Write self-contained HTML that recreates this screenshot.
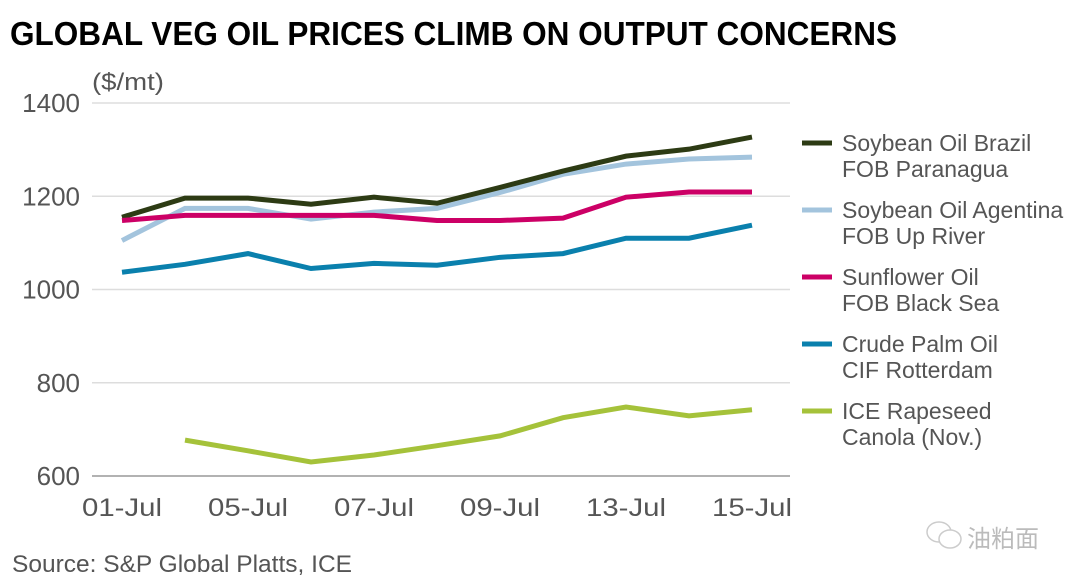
<!DOCTYPE html>
<html><head><meta charset="utf-8"><style>
body{margin:0;background:#fff;width:1080px;height:584px;overflow:hidden;font-family:"Liberation Sans Narrow","Liberation Sans",sans-serif}
</style></head><body>
<svg width="1080" height="584" style="position:absolute;left:0;top:0">
<text x="10" y="45" font-size="33" font-weight="bold" fill="#000" textLength="887" lengthAdjust="spacingAndGlyphs">GLOBAL VEG OIL PRICES CLIMB ON OUTPUT CONCERNS</text>
<text x="92" y="90" font-size="24" fill="#555" textLength="72" lengthAdjust="spacingAndGlyphs">($/mt)</text>
<g id="grid"></g><g id="lines"></g><g id="legend"></g>
<text x="12" y="572" font-size="24" fill="#555" textLength="340" lengthAdjust="spacingAndGlyphs">Source: S&amp;P Global Platts, ICE</text>
<g fill="none" stroke="#ccc" stroke-width="1.5">
<ellipse cx="939" cy="532" rx="12" ry="10"/><ellipse cx="950" cy="539" rx="11" ry="9" fill="#fff"/>
<text x="967" y="547" font-size="24" fill="#bbb" stroke="none" font-family="'Noto Sans CJK SC',sans-serif">油粕面</text></g>
</svg>
<script>
const categories=["01-Jul","02-Jul","05-Jul","06-Jul","07-Jul","08-Jul","09-Jul","12-Jul","13-Jul","14-Jul","15-Jul"];
const xLabels=["01-Jul","05-Jul","07-Jul","09-Jul","13-Jul","15-Jul"];
const yTicks=[600,800,1000,1200,1400];
const soyBrazil=[1155,1196,1196,1183,1198,1185,1219,1254,1286,1301,1327];
const soyArg=[1105,1174,1174,1151,1166,1174,1208,1247,1269,1280,1284];
const sunflower=[1148,1159,1159,1159,1159,1148,1148,1153,1198,1209,1209];
const palm=[1037,1054,1077,1045,1056,1052,1069,1077,1110,1110,1138];
const rapeseed=[null,677,654,630,645,665,686,725,748,729,742];
const seriesNames=[["Soybean Oil Brazil","FOB Paranagua"],["Soybean Oil Agentina","FOB Up River"],["Sunflower Oil","FOB Black Sea"],["Crude Palm Oil","CIF Rotterdam"],["ICE Rapeseed","Canola (Nov.)"]];
const NS="http://www.w3.org/2000/svg";
const X=i=>122+i*(752-122)/(categories.length-1);
const Y=v=>476-(v-600)*(476-103)/800;
const mk=(t,a,p)=>{const e=document.createElementNS(NS,t);for(const k in a)e.setAttribute(k,a[k]);p.appendChild(e);return e;};
const grid=document.getElementById('grid');
yTicks.forEach(v=>{
 const l=mk('line',{x1:92,x2:790,y1:Y(v),y2:Y(v),stroke:v===600?'#999':'#ddd','stroke-width':1.5},grid);
 
 
 const t=mk('text',{x:80,y:Y(v)+9,'text-anchor':'end','font-size':26,fill:'#555'},grid);t.textContent=v;
 
 
});
xLabels.forEach(lb=>{
 const i=categories.indexOf(lb);
 const t=mk('text',{x:X(i),y:516,'text-anchor':'middle','font-size':25,fill:'#555',textLength:80,lengthAdjust:'spacingAndGlyphs'},grid);t.textContent=lb;
 
 
});
const colors=["#2d3b14","#a3c4dd","#cc0066","#0a80ad","#a5c23a"];
const all=[soyBrazil,soyArg,sunflower,palm,rapeseed];
const lines=document.getElementById('lines');
[1,0,2,3,4].forEach(k=>{
 const d=all[k].map((v,i)=>v==null?null:[X(i),Y(v)]).filter(p=>p).map((p,j)=>(j?'L':'M')+p[0]+','+p[1]).join('');
 const p=mk('path',{d:d,fill:'none',stroke:colors[k],'stroke-width':5},lines);
 
 
});
const lg=document.getElementById('legend');
seriesNames.forEach((n,k)=>{
 const y0=143+k*67;
 const l=mk('line',{x1:802,x2:832,y1:y0,y2:y0,stroke:colors[k],'stroke-width':5},lg);
 
 
 n.forEach((s,j)=>{const t=mk('text',{x:842,y:y0+8+j*26,'font-size':23,fill:'#555'},lg);t.textContent=s;
  
  });
});
</script>
</body></html>
